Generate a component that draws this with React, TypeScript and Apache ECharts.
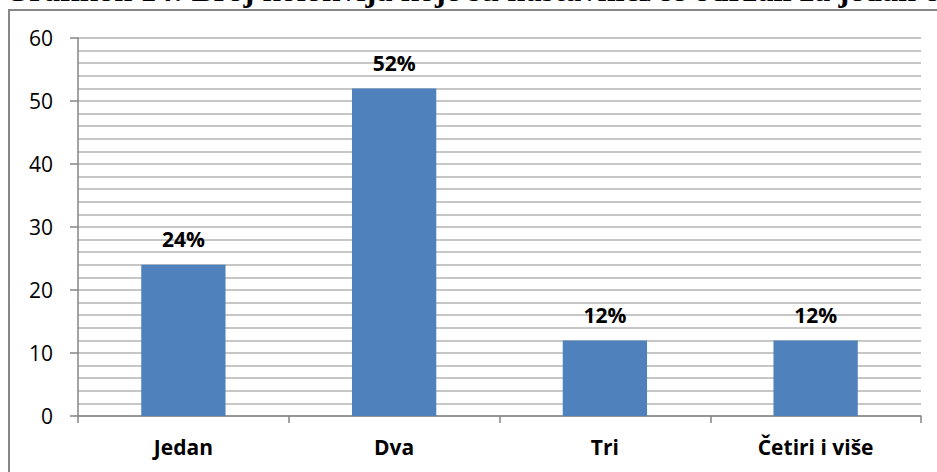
import React, { useEffect, useRef } from "react";
import * as echarts from "echarts";

const categories = ["Jedan", "Dva", "Tri", "Četiri i više"];
const values = [24, 52, 12, 12];
const valueLabels = ["24%", "52%", "12%", "12%"];
const titleText = "Grafikon 14: Broj kolokvija koje su nastavnici/ce održali za jedan o";

export default function App() {
  const ref = useRef<HTMLDivElement>(null);
  useEffect(() => {
    if (!ref.current) return;
    const chart = echarts.init(ref.current, null, { renderer: "svg" });
    const font = "'Open Sans', Lato, sans-serif";
    chart.setOption({
      animation: false,
      backgroundColor: "#ffffff",
      grid: { left: 78, right: 16, top: 38, bottom: 56 },
      graphic: [
        {
          type: "rect",
          shape: { x: 9, y: 10, width: 1000, height: 500 },
          style: { fill: "none", stroke: "#878787", lineWidth: 2 },
          silent: true,
        },
        {
          type: "text",
          x: 4,
          y: -10.5,
          style: {
            text: titleText,
            font: "bold 32.5px 'Liberation Serif', 'DejaVu Serif', serif",
            fill: "#000",
            verticalAlign: "middle",
            align: "left",
          },
          silent: true,
        },
      ],
      xAxis: {
        type: "category",
        data: categories,
        axisLine: { lineStyle: { color: "#868686", width: 1.5 } },
        axisTick: { show: true, length: 7, alignWithLabel: false, lineStyle: { color: "#868686", width: 1.5 } },
        axisLabel: {
          color: "#000",
          fontFamily: font,
          fontSize: 21,
          fontWeight: "bold",
          margin: 20,
        },
        splitLine: { show: false },
      },
      yAxis: {
        type: "value",
        min: 0,
        max: 60,
        interval: 10,
        axisLine: { show: true, lineStyle: { color: "#868686", width: 1.5 } },
        axisTick: { show: true, length: 8, lineStyle: { color: "#868686", width: 1.5 } },
        axisLabel: { color: "#000", fontFamily: font, fontSize: 21, margin: 25 },
        splitLine: { show: true, lineStyle: { color: "#b3b3b3", width: 1.5 } },
        minorTick: { show: false, splitNumber: 5 },
        minorSplitLine: { show: true, lineStyle: { color: "#b3b3b3", width: 1.5 } },
      },
      series: [
        {
          type: "bar",
          data: values,
          barWidth: "40%",
          itemStyle: { color: "#4F81BD" },
          label: {
            show: true,
            position: "top",
            distance: 15,
            color: "#000",
            fontFamily: font,
            fontSize: 21,
            fontWeight: "bold",
            formatter: (p: any) => valueLabels[p.dataIndex],
          },
        },
      ],
    });
    return () => chart.dispose();
  }, []);
  return (
    <div
      ref={ref}
      style={{ position: "fixed", left: 0, top: 0, width: 937, height: 472 }}
    />
  );
}
